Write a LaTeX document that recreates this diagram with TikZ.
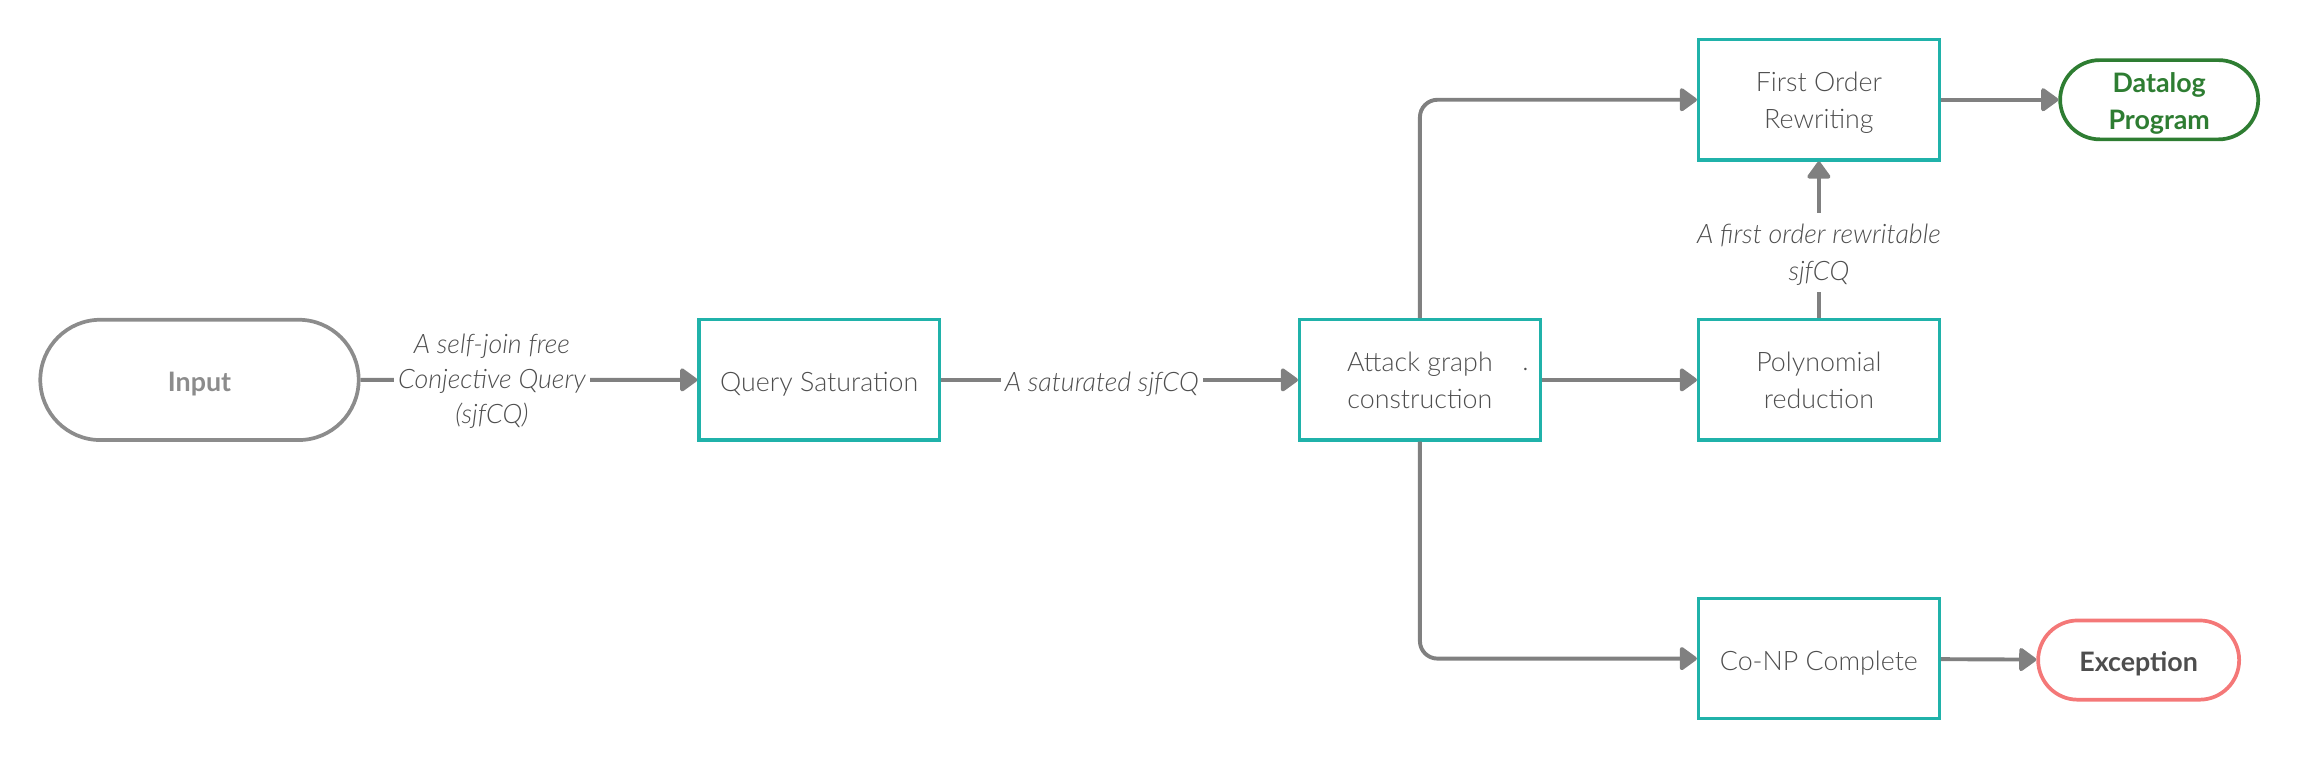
\documentclass[tikz,border=0pt]{standalone}
\usepackage{fontspec}
\setmainfont{Lato}[UprightFont=* Light, ItalicFont=* Light Italic, BoldFont=* Bold]
\usepackage{tikz}
\usetikzlibrary{arrows.meta}
\usetikzlibrary{shapes.misc}
\definecolor{boxteal}{RGB}{32,178,170}
\definecolor{linegray}{RGB}{128,128,128}
\definecolor{textgray}{RGB}{78,78,78}
\definecolor{inputgray}{RGB}{140,140,140}
\definecolor{datagreen}{RGB}{46,125,50}
\definecolor{excred}{RGB}{244,120,120}
% Struts that place the text a little below the middle of its box.
\tikzset{lowtext/.style={execute at begin node={\rule{0pt}{#1}}, execute at end node={\rule[-3.5pt]{0pt}{0pt}}},
         lowtext/.default=15pt}
\tikzstyle{process}=[lowtext, draw=boxteal, line width=1.6pt, minimum width=4.1cm, minimum height=2.05cm, align=center, text=textgray, inner sep=0]
\tikzstyle{terminal}=[lowtext, rounded rectangle, line width=1.8pt, align=center, inner sep=0, font=\fontsize{13}{18}\selectfont\bfseries]
\tikzstyle{flow}=[draw=linegray, line width=1.9pt, -{Triangle[length=9pt, width=12.5pt, round]}]
\tikzstyle{flowlabel}=[lowtext, fill=white, font=\fontsize{13}{18}\selectfont\itshape, text=textgray, align=center, inner sep=2pt]
\begin{document}
\begin{tikzpicture}[x=0.025cm, y=-0.025cm,
                    every node/.style={font=\fontsize{13}{18}\selectfont}]
    \useasboundingbox (0,0) rectangle (1568,518);
    % Boxes
    \node[terminal, draw=inputgray, text=inputgray, minimum width=5.425cm, minimum height=2.05cm] (input) at (136,259) {Input};
    \node[process] (saturation) at (558.5,259) {Query Saturation};
    \node[process, lowtext=31.7pt] (attack) at (968,259) {Attack graph\\construction};
    \node[inner sep=0, text=textgray] (attackdot) at (1040,252) {.};
    \node[process, lowtext=31.7pt] (polynomial) at (1240,259) {Polynomial\\reduction};
    \node[process, lowtext=31.7pt] (rewriting) at (1240,68) {First Order\\Rewriting};
    \node[process] (conp) at (1240,449) {Co-NP Complete};
    \node[terminal, lowtext=32pt, draw=datagreen, text=datagreen, minimum width=3.375cm, minimum height=1.35cm] (datalog) at (1472,68) {Datalog\\Program};
    \node[terminal, draw=excred, text=textgray, minimum width=3.425cm, minimum height=1.35cm] (exception) at (1458,450) {Exception};
    % Connectors
    \draw[flow] (input) -- node[flowlabel, lowtext=45.5pt, font=\fontsize{13}{17}\selectfont\itshape, pos=0.39] {A self-join free\\Conjective Query\\(sjfCQ)} (saturation);
    \draw[flow] (saturation) -- node[flowlabel, pos=0.45] {A saturated sjfCQ} (attack);
    \draw[flow] (attack) -- (polynomial);
    \draw[flow] (polynomial) -- node[flowlabel, lowtext=30.9pt, pos=0.42] {A first order rewritable\\sjfCQ} (rewriting);
    \draw[flow, rounded corners=0.3cm] (attack.north) |- (rewriting.west);
    \draw[flow, rounded corners=0.3cm] (attack.south) |- (conp.west);
    \draw[flow] (rewriting) -- (datalog);
    \draw[flow] (conp) -- (exception);
\end{tikzpicture}
\end{document}
